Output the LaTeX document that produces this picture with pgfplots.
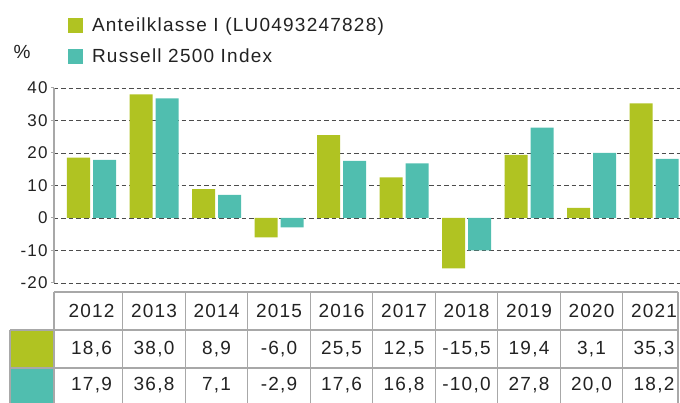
\documentclass[border=0pt]{standalone}
\usepackage{fontspec}
\setmainfont{Liberation Sans}[LetterSpace=6.5]
\usepackage{pgfplots}
\pgfplotsset{compat=1.18}
\definecolor{cgreen}{HTML}{B0C322}
\definecolor{cteal}{HTML}{50BEAF}
\definecolor{tline}{HTML}{A8A8A8}
\definecolor{txt}{HTML}{222222}
\begin{document}
\begin{tikzpicture}[x=1pt,y=1pt]
\path[use as bounding box] (0,0) rectangle (680,403);
\begin{axis}[
  at={(54pt,120pt)}, anchor=south west,
  scale only axis, width=626pt, height=195pt,
  xmin=-0.6, xmax=9.416, ymin=-20, ymax=40,
  ytick={-20,-10,...,40}, xtick=\empty,
  axis x line=none, axis y line*=left,
  y axis line style={tline, line width=1.2pt, -},
  ymajorgrids,
  grid style={black!70, line width=0.8pt, dash pattern=on 4.5pt off 3pt},
  tick align=outside, major tick length=3pt,
  ytick style={tline, line width=1pt},
  yticklabel style={font=\fontsize{17}{17}\selectfont, text=txt},
  /pgf/number format/assume math mode=true,
  clip=false,
  legend style={at={(rel axis cs:0.0224,1.372)}, anchor=north west, draw=none, fill=none,
    inner sep=0pt, outer sep=0pt, font=\fontsize{19}{19}\selectfont, text=txt,
    row sep=12pt, /tikz/every odd column/.append style={column sep=7pt}},
  legend cell align=left,
  legend image code/.code={\fill[#1] (0pt,-7.5pt) rectangle (15pt,7.5pt);},
]
\addplot[ybar, bar width=23pt, bar shift=-13pt, fill=cgreen, draw=none]
  coordinates {(0,18.6)(1,38.0)(2,8.9)(3,-6.0)(4,25.5)(5,12.5)(6,-15.5)(7,19.4)(8,3.1)(9,35.3)};
\addlegendentry{Anteilklasse I (LU0493247828)}
\addplot[ybar, bar width=23pt, bar shift=13pt, fill=cteal, draw=none]
  coordinates {(0,17.9)(1,36.8)(2,7.1)(3,-2.9)(4,17.6)(5,16.8)(6,-10.0)(7,27.8)(8,20.0)(9,18.2)};
\addlegendentry{Russell 2500 Index}

% table swatches
\fill[cgreen] (axis cs:-1.304,-34.46) rectangle (axis cs:-0.6,-46.15);
\fill[cteal] (axis cs:-1.304,-46.15) rectangle (axis cs:-0.6,-57.5);
% table lines
\draw[tline, line width=1.2pt] (axis cs:-0.6,-22.77) -- (axis cs:9.384,-22.77);
\draw[tline, line width=1.2pt] (axis cs:-1.304,-34.46) -- (axis cs:9.384,-34.46);
\draw[tline, line width=1.2pt] (axis cs:-1.304,-46.15) -- (axis cs:9.384,-46.15);
\draw[tline, line width=1.2pt] (axis cs:-1.304,-34.46) -- (axis cs:-1.304,-57.5);
\draw[tline, line width=1.2pt] (axis cs:-0.6,-22.77) -- (axis cs:-0.6,-57.5);
\pgfplotsinvokeforeach{0.5,1.5,2.5,3.5,4.5,5.5,6.5,7.5,8.5}{
  \draw[tline, line width=1.2pt] (axis cs:#1,-22.77) -- (axis cs:#1,-57.5);
}
\draw[tline, line width=1.2pt] (axis cs:9.384,-22.77) -- (axis cs:9.384,-57.5);

\addplot[draw=none, mark=none, forget plot, nodes near coords, point meta=explicit symbolic,
  every node near coord/.append style={anchor=center, inner sep=0pt, font=\fontsize{19}{19}\selectfont, text=txt}]
  table[meta=l] {
x y l
0 -28.62 2012
1 -28.62 2013
2 -28.62 2014
3 -28.62 2015
4 -28.62 2016
5 -28.62 2017
6 -28.62 2018
7 -28.62 2019
8 -28.62 2020
9 -28.62 2021
};
\addplot[draw=none, mark=none, forget plot, nodes near coords, point meta=explicit symbolic,
  every node near coord/.append style={anchor=center, inner sep=0pt, font=\fontsize{19}{19}\selectfont, text=txt}]
  table[meta=l] {
x y l
0 -40.3 18,6
1 -40.3 38,0
2 -40.3 8,9
3 -40.3 -6,0
4 -40.3 25,5
5 -40.3 12,5
6 -40.3 -15,5
7 -40.3 19,4
8 -40.3 3,1
9 -40.3 35,3
};
\addplot[draw=none, mark=none, forget plot, nodes near coords, point meta=explicit symbolic,
  every node near coord/.append style={anchor=center, inner sep=0pt, font=\fontsize{19}{19}\selectfont, text=txt}]
  table[meta=l] {
x y l
0 -51.54 17,9
1 -51.54 36,8
2 -51.54 7,1
3 -51.54 -2,9
4 -51.54 17,6
5 -51.54 16,8
6 -51.54 -10,0
7 -51.54 27,8
8 -51.54 20,0
9 -51.54 18,2
};
\node[font=\fontsize{19}{19}\selectfont, text=txt] at (axis cs:-1.11,51.1) {\%};
\end{axis}
\end{tikzpicture}
\end{document}
